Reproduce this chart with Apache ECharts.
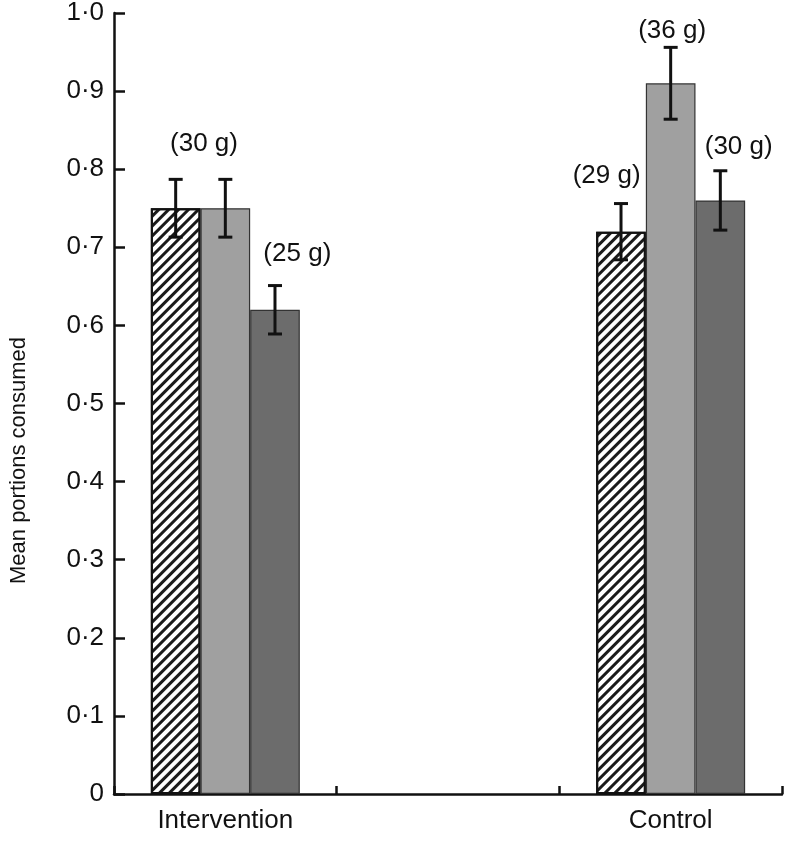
<!DOCTYPE html>
<html>
<head>
<meta charset="utf-8">
<script src="https://cdn.jsdelivr.net/npm/echarts@6/dist/echarts.min.js"></script>
<style>
  html, body { margin: 0; padding: 0; background: #fff; }
  #main { width: 787px; height: 842px; }
</style>
</head>
<body>
<div id="main"></div>
<script>
// categories (middle one is an empty slot between the two groups)
const categories = ['Intervention', '', 'Control'];

// mean portions consumed
const hatchedVals = [0.75, null, 0.72];
const lightVals = [0.75, null, 0.91];
const darkVals = [0.62, null, 0.76];

// error bar half lengths
const hatchedErr = [0.037, null, 0.036];
const lightErr = [0.037, null, 0.046];
const darkErr = [0.031, null, 0.038];

// portion labels: category index, y value of the text centre, text
const labelCats = [0, 0, 2, 2, 2];
const labelYs = [0.833, 0.692, 0.791, 0.977, 0.829];
const labelTexts = ['(30 g)', '(25 g)', '(29 g)', '(36 g)', '(30 g)'];

// y tick values
const yMin = 0, yMax = 1, yStep = 0.1;

// layout: bar width as fraction of category band, label x shift in bar widths
const BAR_FRAC = 0.223;
const labelShift = [-0.43, 1.45, -1.29, 0.03, 1.37];

const FONT = 'Liberation Sans';
const INK = '#111';

let chart = echarts.init(document.getElementById('main'));

function errSeries(vals, errs, slot) {
    let data = [];
    vals.forEach((v, i) => { if (v != null) data.push([i, v, errs[i]]); });
    return {
        type: 'custom',
        silent: true,
        z: 5,
        data: data,
        encode: { x: 0, y: 1 },
        renderItem(params, api) {
            const i = api.value(0), v = api.value(1), e = api.value(2);
            const band = api.size([1, 0])[0];
            const cx = api.coord([i, v])[0] + slot * band * BAR_FRAC;
            const top = api.coord([i, v + e])[1];
            const bot = api.coord([i, v - e])[1];
            const cap = 7;
            const st = { stroke: INK, lineWidth: 3 };
            return {
                type: 'group',
                children: [
                    { type: 'line', shape: { x1: cx, y1: top, x2: cx, y2: bot }, style: st },
                    { type: 'line', shape: { x1: cx - cap, y1: top, x2: cx + cap, y2: top }, style: st },
                    { type: 'line', shape: { x1: cx - cap, y1: bot, x2: cx + cap, y2: bot }, style: st }
                ]
            };
        }
    };
}

const barBase = {
    type: 'bar',
    barWidth: (BAR_FRAC * 100) + '%',
    barGap: '0%',
    silent: true
};

chart.setOption({
    backgroundColor: '#fff',
    animation: false,
    grid: { left: 111, right: 5, top: 12, bottom: 48 },
    xAxis: {
        type: 'category',
        data: categories,
        boundaryGap: true,
        axisLine: { lineStyle: { color: INK, width: 2.5 } },
        axisTick: { show: true, interval: 0, inside: true, length: 8, lineStyle: { color: INK, width: 2.5 } },
        axisLabel: { interval: 0, color: INK, fontFamily: FONT, fontSize: 26, margin: 14 }
    },
    yAxis: {
        type: 'value',
        min: yMin,
        max: yMax,
        interval: yStep,
        name: 'Mean portions consumed',
        nameLocation: 'middle',
        nameRotate: 90,
        nameGap: 84,
        nameTextStyle: { color: INK, fontFamily: FONT, fontSize: 22, padding: [0, 114, 0, 0] },
        splitLine: { show: false },
        axisLine: { show: true, lineStyle: { color: INK, width: 2.5 } },
        axisTick: { show: true, inside: true, length: 11, lineStyle: { color: INK, width: 2.5 } },
        axisLabel: {
            color: INK, fontFamily: FONT, fontSize: 26, margin: 10,
            formatter: v => v === 0 ? '0' : v.toFixed(1).replace('.', '\u00b7')
        }
    },
    series: [
        Object.assign({}, barBase, {
            data: hatchedVals,
            itemStyle: {
                color: '#fff',
                borderColor: INK,
                borderWidth: 2,
                decal: {
                    symbol: 'rect',
                    symbolSize: 1,
                    color: '#1a1a1a',
                    dashArrayX: [1, 0],
                    dashArrayY: [2.2, 3.8],
                    rotation: -Math.PI / 4
                }
            }
        }),
        Object.assign({}, barBase, {
            data: lightVals,
            itemStyle: { color: '#a0a0a0', borderColor: '#333', borderWidth: 1.2 }
        }),
        Object.assign({}, barBase, {
            data: darkVals,
            itemStyle: { color: '#6c6c6c', borderColor: '#333', borderWidth: 1.2 }
        }),
        errSeries(hatchedVals, hatchedErr, -1),
        errSeries(lightVals, lightErr, 0),
        errSeries(darkVals, darkErr, 1),
        {
            type: 'custom',
            silent: true,
            z: 6,
            data: labelCats.map((c, k) => [c, labelYs[k]]),
            encode: { x: 0, y: 1 },
            renderItem(params, api) {
                const k = params.dataIndex;
                const band = api.size([1, 0])[0];
                const p = api.coord([api.value(0), api.value(1)]);
                return {
                    type: 'text',
                    x: p[0] + labelShift[k] * band * BAR_FRAC,
                    y: p[1],
                    style: {
                        text: labelTexts[k],
                        fill: INK,
                        font: '26px "' + FONT + '"',
                        align: 'center',
                        verticalAlign: 'middle'
                    }
                };
            }
        }
    ]
});
</script>
</body>
</html>
